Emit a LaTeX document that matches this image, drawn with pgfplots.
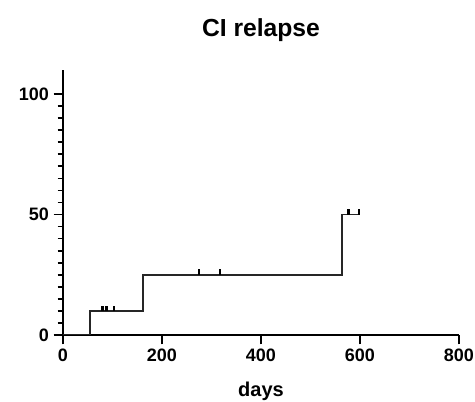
\documentclass[border=0pt]{standalone}
\usepackage{fontspec}
\setmainfont{Liberation Sans}
\usepackage{pgfplots}
\pgfplotsset{compat=1.18}
% censoring tick: short upward stroke
\pgfdeclareplotmark{cens}{%
  \pgfpathmoveto{\pgfpointorigin}%
  \pgfpathlineto{\pgfpoint{0pt}{4pt}}%
  \pgfusepathqstroke}

\begin{document}
\begin{tikzpicture}
\useasboundingbox (-47.25pt,-50.25pt) rectangle (309pt,251.25pt);
\begin{axis}[
    scale only axis,
    width=297pt, height=198.75pt,
    xmin=0, xmax=800, ymin=0, ymax=110,
    axis lines*=left,
    axis line style={line width=1.5pt, black},
    xtick={0,200,400,600,800},
    ytick={0,50,100},
    minor y tick num=9,
    tick align=outside,
    major tick length=7pt,
    minor tick length=4pt,
    tick style={line width=1.3pt, black},
    tick label style={font=\fontsize{13.5}{14}\selectfont\bfseries},
    /pgf/number format/assume math mode=true,
    title={CI relapse},
    title style={font=\fontsize{18.5}{20}\selectfont\bfseries, at={(0.5,1.098)}, anchor=base},
    xlabel={days},
    xlabel style={font=\fontsize{15}{16}\selectfont\bfseries, at={(0.5,-0.232)}, anchor=base},
]
\addplot[const plot, line width=1.3pt, black!85] coordinates {
    (0,0) (55,10) (162,25) (564,50) (600,50)
};
\addplot[only marks, mark=cens, mark options={line width=1.7pt, black}] coordinates {
    (80,10) (88,10) (103,10)
    (275,25) (317,25)
    (577,50) (598,50)
};
\end{axis}
\end{tikzpicture}
\end{document}
